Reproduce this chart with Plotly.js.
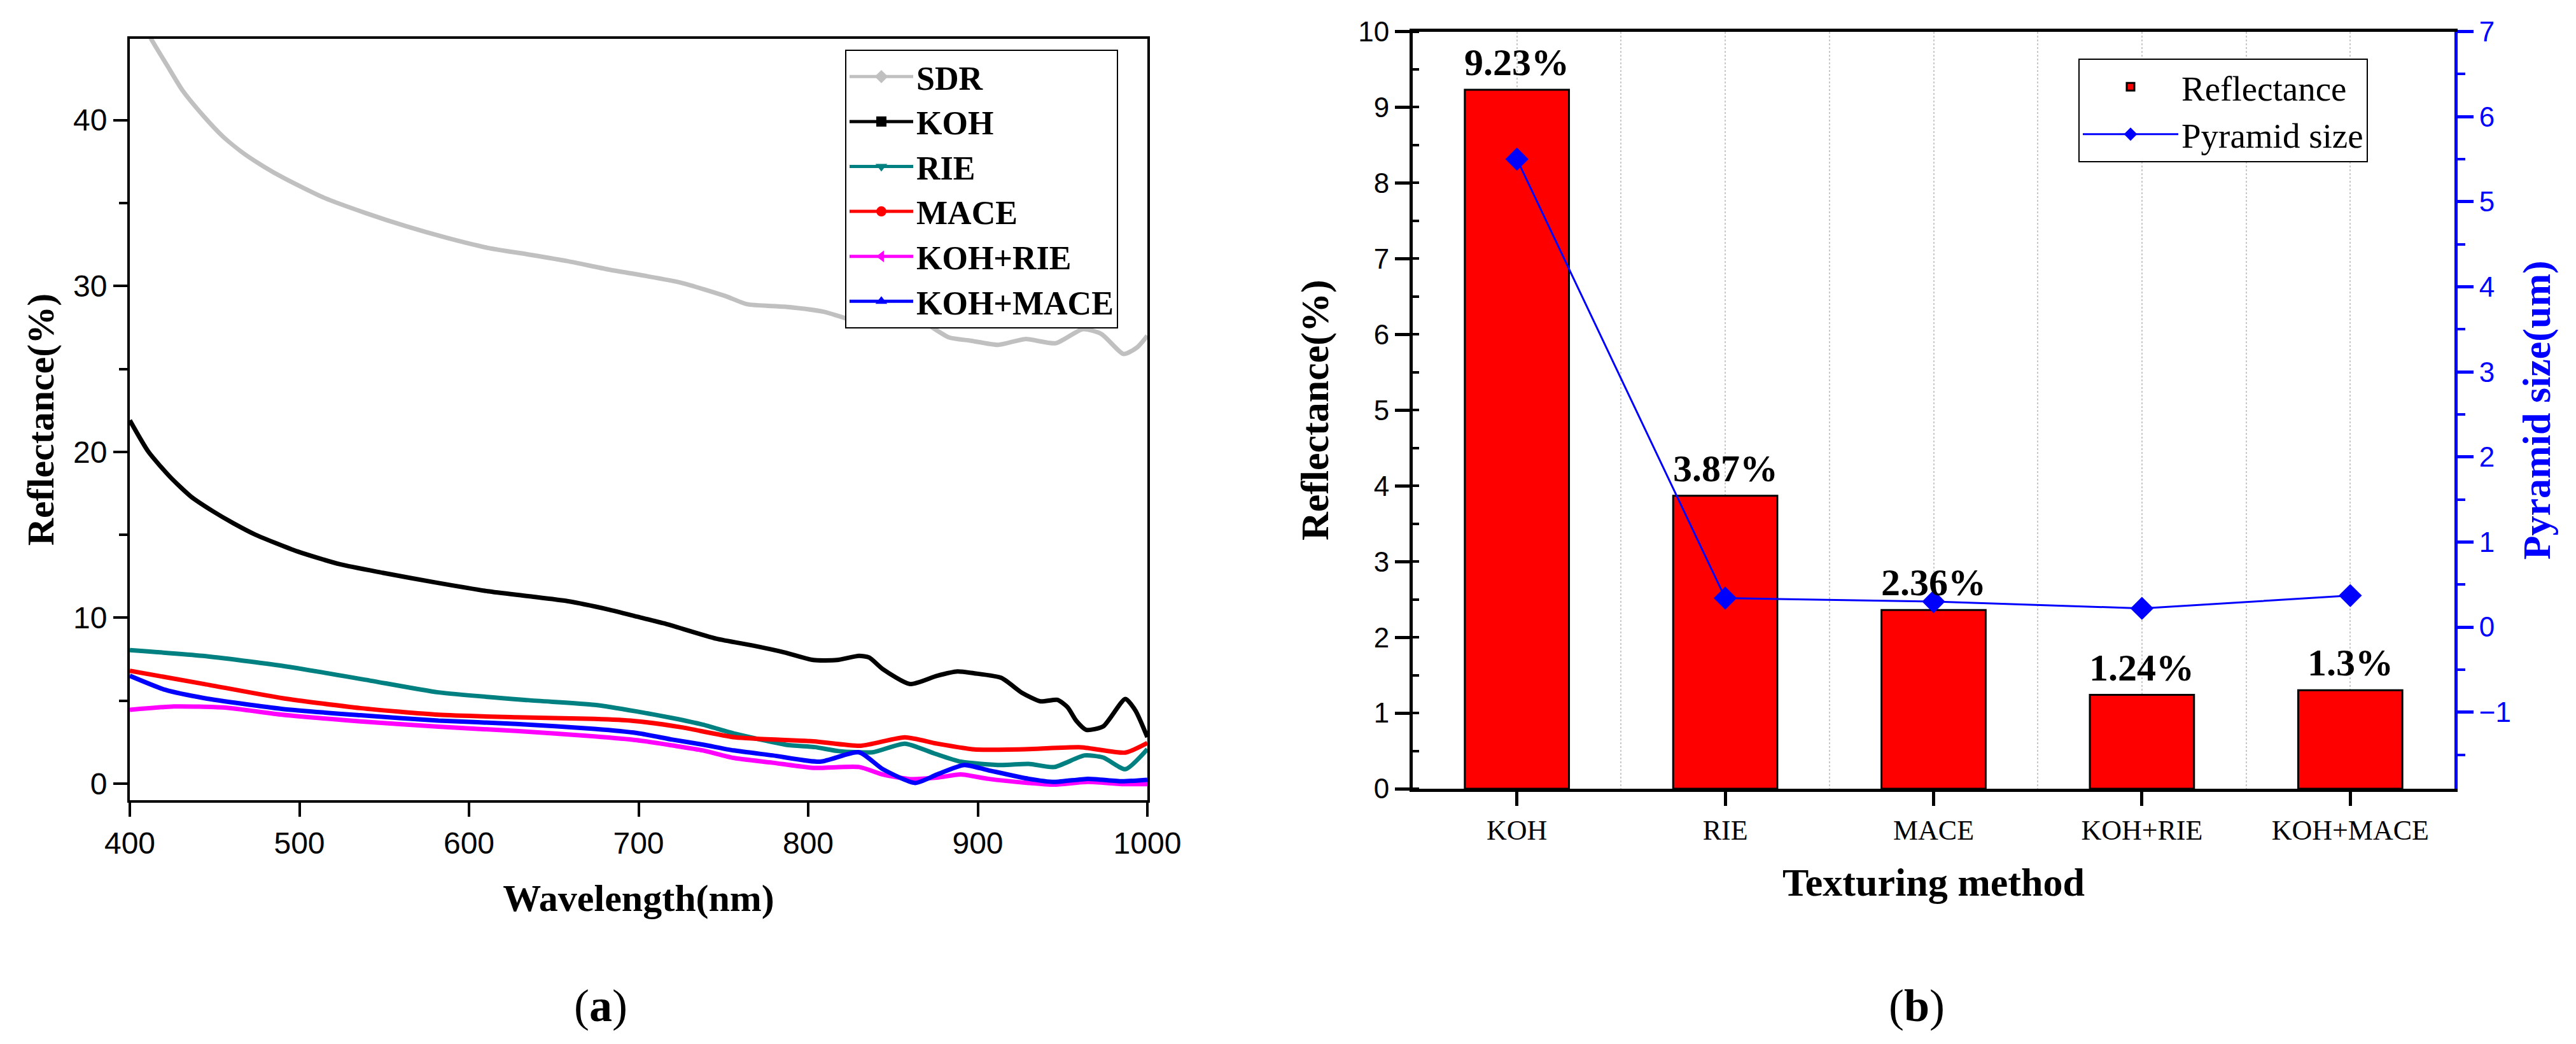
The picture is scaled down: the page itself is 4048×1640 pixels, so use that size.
<!DOCTYPE html>
<html>
<head>
<meta charset="utf-8">
<script src="https://cdn.plot.ly/plotly-3.0.1.min.js"></script>
<style>html,body{margin:0;padding:0;background:#fff;}#chart{width:4048px;height:1640px;}</style>
</head>
<body>
<div id="chart"></div>
<script>
// ---------- (a) Reflectance spectra ----------
const sdrWl  = [400, 412, 422, 431, 443, 455, 467, 479, 491, 515, 539, 563, 587, 611, 635, 658, 682, 699, 725, 751, 764, 786, 809, 830, 838, 854, 865, 883, 896, 912, 928, 946, 962, 973, 986, 994, 1000];
const sdrR   = [47.6, 45.0, 43.3, 41.8, 40.3, 39.0, 38.0, 37.2, 36.5, 35.3, 34.4, 33.6, 32.9, 32.3, 31.9, 31.5, 31.0, 30.7, 30.2, 29.4, 28.9, 28.75, 28.45, 27.8, 27.6, 28.2, 28.0, 26.9, 26.7, 26.45, 26.8, 26.55, 27.4, 27.1, 25.9, 26.3, 27.0];

const kohWl  = [400, 411, 424, 436, 449, 461, 474, 499, 524, 549, 580, 611, 635, 658, 682, 699, 715, 746, 767, 786, 803, 817, 830, 836, 844, 860, 876, 888, 898, 914, 926, 937, 947, 953, 958, 964, 974, 987, 993, 1000];
const kohR   = [21.9, 20.0, 18.46, 17.31, 16.42, 15.70, 15.01, 13.99, 13.22, 12.71, 12.13, 11.6, 11.3, 11.0, 10.5, 10.07, 9.66, 8.73, 8.33, 7.91, 7.45, 7.45, 7.7, 7.6, 6.9, 6.0, 6.5, 6.76, 6.65, 6.37, 5.48, 4.96, 5.05, 4.6, 3.8, 3.24, 3.45, 5.1, 4.4, 2.8];

const rieWl  = [400, 443, 490, 539, 582, 635, 674, 699, 720, 738, 757, 787, 804, 818, 838, 857, 874, 890, 914, 930, 945, 963, 974, 987, 1000];
const rieR   = [8.05, 7.7, 7.1, 6.26, 5.5, 5.03, 4.75, 4.35, 3.95, 3.55, 3.0, 2.34, 2.2, 1.96, 1.89, 2.41, 1.83, 1.32, 1.12, 1.19, 1.0, 1.70, 1.57, 0.87, 2.08];

const maceWl = [400, 444, 490, 536, 582, 628, 674, 697, 725, 757, 803, 831, 857, 876, 898, 930, 961, 987, 1000];
const maceR  = [6.8, 6.0, 5.15, 4.55, 4.15, 4.0, 3.9, 3.78, 3.4, 2.79, 2.55, 2.28, 2.79, 2.41, 2.06, 2.08, 2.19, 1.87, 2.45];

const kohRieWl = [400, 426, 456, 490, 536, 582, 628, 674, 699, 720, 738, 756, 779, 803, 830, 844, 860, 876, 890, 906, 930, 945, 965, 985, 1000];
const kohRieR  = [4.45, 4.65, 4.58, 4.15, 3.75, 3.43, 3.17, 2.85, 2.62, 2.3, 2.0, 1.55, 1.26, 0.95, 1.0, 0.55, 0.27, 0.36, 0.55, 0.29, 0.04, -0.06, 0.1, -0.03, -0.03];

const kohMaceWl = [400, 421, 444, 490, 536, 582, 628, 674, 699, 720, 738, 756, 779, 807, 830, 844, 863, 876, 892, 906, 930, 945, 965, 985, 1000];
const kohMaceR  = [6.5, 5.65, 5.15, 4.5, 4.12, 3.8, 3.6, 3.3, 3.05, 2.65, 2.35, 2.0, 1.7, 1.32, 1.89, 0.87, 0.04, 0.55, 1.12, 0.81, 0.29, 0.10, 0.29, 0.14, 0.23];

const seriesNames = ['SDR', 'KOH', 'RIE', 'MACE', 'KOH+RIE', 'KOH+MACE'];

// ---------- (b) Texturing methods ----------
const methods     = ['KOH', 'RIE', 'MACE', 'KOH+RIE', 'KOH+MACE'];
const reflectance = [9.23, 3.87, 2.36, 1.24, 1.3];
const reflLabels  = ['9.23%', '3.87%', '2.36%', '1.24%', '1.3%'];
const pyramidSize = [5.50, 0.34, 0.30, 0.22, 0.37];

// ---------- styles ----------
const specX = [sdrWl, kohWl, rieWl, maceWl, kohRieWl, kohMaceWl];
const specY = [sdrR, kohR, rieR, maceR, kohRieR, kohMaceR];
const specColors  = ['#c0c0c0', '#000000', '#008080', '#ff0000', '#ff00ff', '#0000ff'];
const specSymbols = ['diamond', 'square', 'triangle-down', 'circle', 'triangle-left', 'triangle-up'];

const SERIF = 'Liberation Serif, Times New Roman, serif';
const SANS  = 'Liberation Sans, Arial, sans-serif';

const traces = [];
seriesNames.forEach((nm, i) => {
  traces.push({
    type: 'scatter', mode: 'lines', x: specX[i], y: specY[i],
    xaxis: 'x', yaxis: 'y', name: nm, showlegend: false,
    line: {color: specColors[i], width: 7, shape: 'spline', smoothing: 0.6},
    hoverinfo: 'skip'
  });
});
// legend entries (line + marker symbol)
seriesNames.forEach((nm, i) => {
  traces.push({
    type: 'scatter', mode: 'lines+markers', x: [null], y: [null],
    xaxis: 'x', yaxis: 'y', name: nm, legend: 'legend',
    line: {color: specColors[i], width: 5},
    marker: {color: specColors[i], symbol: specSymbols[i], size: 16}
  });
});

const idx = methods.map((m, i) => i);
traces.push({
  type: 'bar', x: idx, y: reflectance, xaxis: 'x2', yaxis: 'y2',
  name: 'Reflectance', legend: 'legend2',
  marker: {color: '#ff0000', line: {color: '#000000', width: 3}}
});
traces.push({
  type: 'scatter', mode: 'lines+markers', x: idx, y: pyramidSize, xaxis: 'x2', yaxis: 'y3',
  name: 'Pyramid size', legend: 'legend2',
  line: {color: '#0000ff', width: 3},
  marker: {color: '#0000ff', symbol: 'diamond', size: 28}
});

const annotations = [];
methods.forEach((m, i) => {
  annotations.push({
    xref: 'x2', yref: 'y2', x: idx[i], y: reflectance[i], text: '<b>' + reflLabels[i] + '</b>',
    showarrow: false, xanchor: 'center', yanchor: 'bottom', yshift: 8,
    font: {family: SERIF, size: 60, color: '#000'}
  });
});
annotations.push({xref: 'paper', yref: 'paper', x: 944/4048, y: 1 - 1580/1640, text: '(<b>a</b>)', showarrow: false,
  xanchor: 'center', yanchor: 'middle', font: {family: SERIF, size: 72, color: '#000'}});
annotations.push({xref: 'paper', yref: 'paper', x: 3012/4048, y: 1 - 1580/1640, text: '(<b>b</b>)', showarrow: false,
  xanchor: 'center', yanchor: 'middle', font: {family: SERIF, size: 72, color: '#000'}});

const layout = {
  width: 4048, height: 1640,
  margin: {l: 0, r: 0, t: 0, b: 0},
  paper_bgcolor: '#ffffff', plot_bgcolor: '#ffffff',
  showlegend: true,
  bargap: 0.5,
  xaxis: {
    domain: [204/4048, 1803/4048], anchor: 'y', range: [400, 1000], tick0: 400, dtick: 100,
    ticks: 'outside', ticklen: 22, tickwidth: 4, tickcolor: '#000',
    showline: true, linewidth: 4, linecolor: '#000', mirror: true,
    showgrid: false, zeroline: false,
    tickfont: {family: SANS, size: 48, color: '#000'},
    title: {text: '<b>Wavelength(nm)</b>', font: {family: SERIF, size: 60, color: '#000'}, standoff: 40}
  },
  yaxis: {
    domain: [1 - 1257/1640, 1 - 61/1640], anchor: 'x', range: [-1, 44.9], tick0: 0, dtick: 10,
    ticks: 'outside', ticklen: 22, tickwidth: 4, tickcolor: '#000',
    minor: {tick0: 0, dtick: 5, ticks: 'outside', ticklen: 13, tickwidth: 4, tickcolor: '#000', showgrid: false},
    showline: true, linewidth: 4, linecolor: '#000', mirror: true,
    showgrid: false, zeroline: false,
    tickfont: {family: SANS, size: 48, color: '#000'},
    title: {text: '<b>Reflectance(%)</b>', font: {family: SERIF, size: 60, color: '#000'}, standoff: 12}
  },
  xaxis2: {
    domain: [2220/4048, 3857/4048], anchor: 'y2', range: [-0.5, 4.5],
    tickmode: 'array', tickvals: idx, ticktext: methods,
    ticks: 'outside', ticklen: 22, tickwidth: 5, tickcolor: '#000',
    showline: true, linewidth: 5, linecolor: '#000', mirror: true,
    showgrid: true, gridcolor: '#c8c8c8', gridwidth: 2, griddash: 'dot',
    minor: {tick0: 0.5, dtick: 1, showgrid: true, gridcolor: '#c8c8c8', gridwidth: 2, griddash: 'dot', ticks: ''},
    zeroline: false,
    tickfont: {family: SERIF, size: 44, color: '#000'},
    title: {text: '<b>Texturing method</b>', font: {family: SERIF, size: 62, color: '#000'}, standoff: 37}
  },
  yaxis2: {
    domain: [1 - 1239/1640, 1 - 49.5/1640], anchor: 'x2', range: [0, 10], tick0: 0, dtick: 1,
    ticks: 'outside', ticklen: 23, tickwidth: 5, tickcolor: '#000',
    minor: {tick0: 0, dtick: 0.5, ticks: 'inside', ticklen: 10, tickwidth: 4, tickcolor: '#000', showgrid: false},
    showline: true, linewidth: 5, linecolor: '#000',
    showgrid: false, zeroline: false,
    tickfont: {family: SANS, size: 44, color: '#000'},
    title: {text: '<b>Reflectance(%)</b>', font: {family: SERIF, size: 62, color: '#000'}, standoff: 28}
  },
  yaxis3: {
    overlaying: 'y2', side: 'right', anchor: 'x2', range: [-1.9, 7], tick0: 0, dtick: 1,
    ticks: 'outside', ticklen: 25, tickwidth: 5, tickcolor: '#0000ff',
    minor: {tick0: 0, dtick: 0.5, ticks: 'outside', ticklen: 12, tickwidth: 4, tickcolor: '#0000ff', showgrid: false},
    showline: true, linewidth: 5, linecolor: '#0000ff',
    showgrid: false, zeroline: false,
    tickfont: {family: SANS, size: 44, color: '#0000ff'},
    title: {text: '<b>Pyramid size(um)</b>', font: {family: SERIF, size: 62, color: '#0000ff'}, standoff: 20}
  },
  legend: {
    x: 1328/4048, y: 1 - 78/1640, xanchor: 'left', yanchor: 'top',
    bgcolor: '#ffffff', bordercolor: '#000', borderwidth: 2,
    font: {family: SERIF, size: 52, color: '#000', weight: 'bold'},
    itemwidth: 100, tracegroupgap: 0
  },
  legend2: {
    x: 3266/4048, y: 1 - 92/1640, xanchor: 'left', yanchor: 'top',
    bgcolor: '#ffffff', bordercolor: '#000', borderwidth: 2,
    font: {family: SERIF, size: 55, color: '#000'},
    itemwidth: 150
  },
  annotations: annotations
};

Plotly.newPlot('chart', traces, layout, {displayModeBar: false, staticPlot: true});
</script>
</body>
</html>
